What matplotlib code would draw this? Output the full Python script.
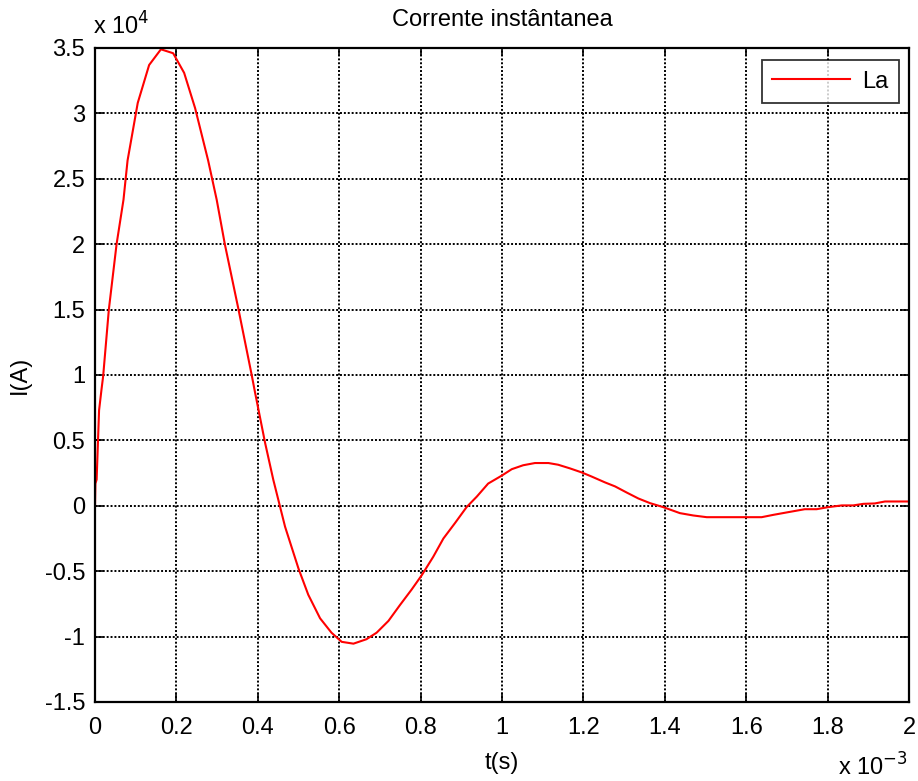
import matplotlib
matplotlib.use("Agg")
import matplotlib.pyplot as plt
import numpy as np

plt.rcParams['font.family'] = ['Liberation Sans', 'DejaVu Sans']

# time in ms (axis shows x 10^-3 s), current in units of 1e4 A
t_ms = [0.0, 0.001, 0.004, 0.010, 0.016, 0.020, 0.034, 0.053, 0.070, 0.080,
        0.105, 0.133, 0.162, 0.192, 0.219, 0.246, 0.278, 0.299, 0.319, 0.352,
        0.385, 0.393, 0.418, 0.438, 0.467, 0.500, 0.524, 0.553, 0.581, 0.606,
        0.635, 0.667, 0.692, 0.721, 0.749, 0.778, 0.803, 0.831, 0.856, 0.885,
        0.913, 0.938, 0.966, 0.999, 1.024, 1.052, 1.081, 1.114, 1.138, 1.167,
        1.196, 1.220, 1.253, 1.278, 1.306, 1.335, 1.364, 1.396, 1.437, 1.470,
        1.503, 1.568, 1.638, 1.667, 1.708, 1.744, 1.773, 1.802, 1.835, 1.863,
        1.888, 1.916, 1.941, 2.000]
i_1e4 = [0.0, 0.17, 0.20, 0.73, 0.89, 0.99, 1.50, 2.00, 2.34, 2.64,
         3.08, 3.37, 3.49, 3.46, 3.31, 3.04, 2.64, 2.34, 2.00, 1.51,
         1.00, 0.87, 0.48, 0.20, -0.16, -0.48, -0.68, -0.86, -0.97, -1.04,
         -1.054, -1.02, -0.97, -0.88, -0.76, -0.64, -0.53, -0.39, -0.25, -0.13,
         -0.01, 0.07, 0.17, 0.23, 0.28, 0.31, 0.327, 0.327, 0.314, 0.286,
         0.255, 0.224, 0.179, 0.148, 0.102, 0.056, 0.020, -0.010, -0.056, -0.074,
         -0.087, -0.087, -0.087, -0.069, -0.046, -0.026, -0.026, -0.010, 0.003, 0.003,
         0.015, 0.018, 0.033, 0.033]

xticks = [0, 0.2, 0.4, 0.6, 0.8, 1, 1.2, 1.4, 1.6, 1.8, 2]
xticklabels = ['0', '0.2', '0.4', '0.6', '0.8', '1', '1.2', '1.4', '1.6', '1.8', '2']
yticks = [-1.5, -1, -0.5, 0, 0.5, 1, 1.5, 2, 2.5, 3, 3.5]
yticklabels = ['-1.5', '-1', '-0.5', '0', '0.5', '1', '1.5', '2', '2.5', '3', '3.5']

FS = 17

fig = plt.figure(figsize=(9.18, 7.81), dpi=100)
ax = fig.add_axes([95/918, 1-702/781, (909-95)/918, (702-48)/781])

ax.plot(t_ms, i_1e4, color='#ff0000', linewidth=1.5, label='La')
ax.set_xlim(0, 2)
ax.set_ylim(-1.5, 3.5)
ax.set_xticks(xticks)
ax.set_xticklabels(xticklabels)
ax.set_yticks(yticks)
ax.set_yticklabels(yticklabels)
ax.tick_params(direction='in', length=5.5, width=1.2, top=True, right=True,
               labelsize=FS, colors='black')
ax.tick_params(axis='y', pad=7)
ax.tick_params(axis='x', pad=11)
ax.grid(True, color='black', linestyle=(0, (1, 1)), linewidth=1.4)
for s in ax.spines.values():
    s.set_linewidth(1.6)
    s.set_color('black')

ax.set_title('Corrente instântanea', fontsize=FS, pad=16)
ax.set_xlabel('t(s)', fontsize=FS, labelpad=9)
ax.set_ylabel('I(A)', fontsize=FS, labelpad=10)

fig.text(93/918, 1-35/781, r'x 10$^{4}$', fontsize=FS, ha='left', va='baseline')
fig.text(908/918, 1-776/781, r'x 10$^{-3}$', fontsize=FS, ha='right', va='baseline')

leg = ax.legend(loc='upper right', fontsize=FS, frameon=True, fancybox=False,
                edgecolor='black', handlelength=3.3, borderpad=0.45,
                handletextpad=0.5, borderaxespad=0,
                bbox_to_anchor=(899/ (909-95) - 95/(909-95), 1 - 12/(702-48)))
leg.get_frame().set_linewidth(1.3)

fig.savefig('out.png', dpi=100, facecolor='white')
